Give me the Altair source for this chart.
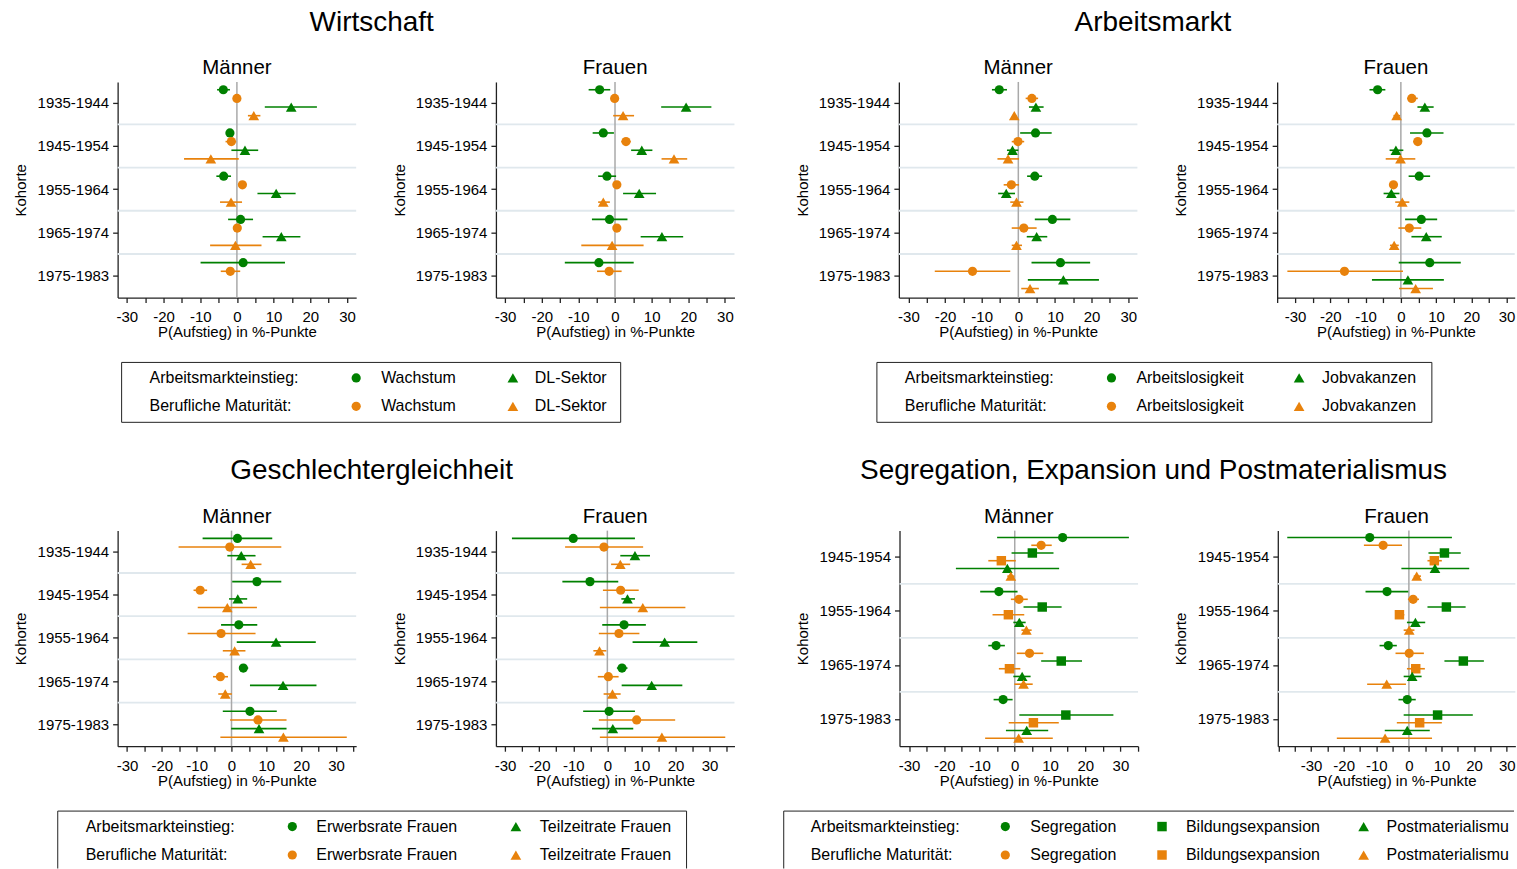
import altair as alt
import pandas as pd

GREEN = "#008000"
ORANGE = "#E8820C"
SEP_COLOR = "#E0E8ED"
ZERO_COLOR = "#A9A9A9"
AXIS_COLOR = "#222222"
FONT = "Liberation Sans"

cohorts_5 = ["1935-1944", "1945-1954", "1955-1964", "1965-1974", "1975-1983"]
cohorts_4 = ["1945-1954", "1955-1964", "1965-1974", "1975-1983"]

row_labels = ["Arbeitsmarkteinstieg:", "Berufliche Maturität:"]

# (estimate, lower CI, upper CI) per cohort, None = not estimated
# --- Wirtschaft, Männer
wirt_m_ein_wachstum = [(-3.7, -5.4, -1.9), (-1.9, -2.9, -0.8), (-3.6, -5.6, -1.6), (1.0, -2.4, 4.4), (1.7, -9.9, 13.1)]
wirt_m_mat_wachstum = [(0.0, -0.4, 0.4), (-1.5, -3.1, -0.2), (1.5, 1.0, 2.0), (0.1, -0.8, 0.9), (-1.8, -4.4, 0.9)]
wirt_m_ein_dl = [(14.8, 7.6, 21.8), (2.2, -1.5, 5.8), (10.7, 5.6, 16.0), (12.1, 7.0, 17.3), None]
wirt_m_mat_dl = [(4.6, 3.0, 6.4), (-7.1, -14.4, 0.5), (-1.6, -4.6, 1.4), (-0.4, -7.3, 6.7), None]
# --- Wirtschaft, Frauen
wirt_f_ein_wachstum = [(-4.2, -7.2, -1.3), (-3.2, -6.1, -0.3), (-2.2, -4.6, 0.3), (-1.5, -6.3, 3.4), (-4.4, -13.7, 5.1)]
wirt_f_mat_wachstum = [(-0.1, -0.5, 0.3), (3.0, 1.7, 4.3), (0.5, 0.1, 0.9), (0.5, 0.1, 0.9), (-1.6, -4.9, 1.8)]
wirt_f_ein_dl = [(19.4, 12.6, 26.3), (7.3, 4.4, 10.2), (6.6, 2.2, 11.2), (12.8, 7.0, 18.6), None]
wirt_f_mat_dl = [(2.2, -0.5, 5.2), (16.1, 12.7, 19.7), (-3.2, -4.6, -1.4), (-0.8, -9.2, 7.8), None]
# --- Arbeitsmarkt, Männer
arb_m_ein_alo = [(-5.2, -7.2, -3.1), (4.7, 0.5, 9.1), (4.5, 2.4, 6.5), (9.3, 4.5, 14.2), (11.5, 3.6, 19.6)]
arb_m_mat_alo = [(3.7, 2.0, 5.4), (-0.1, -1.8, 1.6), (-1.9, -4.0, 0.2), (1.5, -1.8, 5.0), (-12.5, -22.8, -2.2)]
arb_m_ein_vak = [(4.8, 2.9, 6.9), (-1.6, -3.1, 0.0), (-3.3, -5.5, -0.9), (5.0, 2.3, 7.9), (12.3, 2.6, 22.0)]
arb_m_mat_vak = [(-1.1, -1.7, -0.5), (-2.8, -5.7, 0.2), (-0.5, -2.2, 1.4), (-0.5, -1.8, 1.0), (3.2, 0.8, 5.6)]
# --- Arbeitsmarkt, Frauen
arb_f_ein_alo = [(-6.6, -8.9, -4.4), (7.4, 2.6, 12.1), (5.2, 2.2, 8.3), (5.8, 1.2, 10.3), (8.2, -0.6, 17.0)]
arb_f_mat_alo = [(3.1, 1.8, 4.8), (4.8, 3.5, 6.0), (-2.1, -3.0, -1.3), (2.4, -0.7, 5.8), (-16.0, -32.2, 0.6)]
arb_f_ein_vak = [(6.8, 4.7, 9.3), (-1.4, -3.2, 0.7), (-2.7, -4.9, -0.4), (7.2, 3.0, 11.6), (2.0, -8.2, 12.2)]
arb_f_mat_vak = [(-1.2, -2.1, -0.2), (-0.1, -4.3, 4.1), (0.4, -1.6, 2.4), (-1.9, -3.1, -0.6), (4.2, -0.5, 9.1)]
# --- Geschlechtergleichheit, Männer
ges_m_ein_erw = [(1.7, -8.3, 11.7), (7.3, 0.2, 14.3), (2.1, -3.0, 7.4), (3.4, 2.2, 4.8), (5.3, -2.5, 13.0)]
ges_m_mat_erw = [(-0.5, -15.2, 14.3), (-9.0, -10.9, -7.0), (-3.0, -12.6, 6.9), (-3.2, -5.3, -1.0), (7.6, -0.4, 15.8)]
ges_m_ein_tz = [(2.8, -1.2, 6.9), (1.8, -0.7, 4.5), (12.8, 1.5, 24.2), (14.8, 5.3, 24.4), (7.9, -0.1, 15.8)]
ges_m_mat_tz = [(5.5, 2.9, 8.6), (-1.2, -9.7, 7.3), (0.9, -2.5, 4.0), (-1.8, -3.8, 0.1), (14.9, -3.2, 33.1)]
# --- Geschlechtergleichheit, Frauen
ges_f_ein_erw = [(-10.0, -28.0, 8.1), (-5.1, -13.2, 3.2), (4.9, -1.5, 11.3), (4.3, 2.8, 5.9), (0.5, -7.1, 8.1)]
ges_f_mat_erw = [(-1.0, -12.4, 10.5), (3.9, -1.3, 9.2), (3.4, -2.5, 9.4), (0.3, -2.8, 3.3), (8.6, -2.5, 19.9)]
ges_f_ein_tz = [(8.1, 3.8, 12.5), (5.9, 4.1, 8.1), (16.8, 7.4, 26.4), (13.0, 4.2, 22.0), (1.6, -4.5, 7.6)]
ges_f_mat_tz = [(3.8, 1.1, 6.7), (10.4, -2.2, 22.9), (-2.3, -4.1, -0.3), (1.5, -1.1, 3.9), (16.0, -2.2, 34.6)]
# --- Segregation, Expansion und Postmaterialismus, Männer
seg_m_ein_seg = [(13.6, -5.0, 32.4), (-4.5, -9.8, 0.8), (-5.3, -7.5, -2.8), (-3.3, -6.0, -0.6)]
seg_m_mat_seg = [(7.5, 4.7, 10.5), (1.2, -1.1, 3.7), (4.2, 0.6, 8.1), None]
seg_m_ein_bild = [(5.0, -0.9, 11.0), (7.8, 2.5, 13.3), (13.2, 7.5, 19.1), (14.5, 1.3, 28.0)]
seg_m_mat_bild = [(-3.8, -7.5, 0.3), (-1.8, -6.3, 2.7), (-1.5, -4.5, 1.6), (5.3, -1.7, 12.5)]
seg_m_ein_post = [(-2.1, -16.7, 12.6), (1.3, -0.4, 3.1), (2.1, -0.4, 4.5), (3.4, -2.5, 9.5)]
seg_m_mat_post = [(-1.1, -2.1, -0.1), (3.3, 1.9, 4.8), (2.5, -0.1, 5.1), (1.1, -8.4, 10.8)]
# --- Segregation, Expansion und Postmaterialismus, Frauen
seg_f_ein_seg = [(-12.0, -37.3, 13.2), (-6.7, -13.3, -0.2), (-6.3, -9.0, -3.7), (-0.5, -3.2, 2.1)]
seg_f_mat_seg = [(-7.9, -13.8, -2.1), (1.3, -0.3, 3.1), (0.1, -4.1, 4.6), None]
seg_f_ein_bild = [(10.9, 6.0, 15.9), (11.5, 5.7, 17.4), (16.7, 10.9, 23.0), (8.8, -1.6, 19.6)]
seg_f_mat_bild = [(7.8, 5.7, 10.1), (-2.9, -4.2, -1.4), (2.1, -0.6, 4.9), (3.3, -3.7, 10.1)]
seg_f_ein_post = [(8.0, -2.3, 18.5), (2.0, -0.6, 5.0), (1.0, -1.6, 3.9), (-0.5, -7.4, 6.4)]
seg_f_mat_post = [(2.4, 1.5, 3.7), (0.1, -1.6, 1.7), (-6.8, -12.8, -0.9), (-7.3, -22.1, 7.1)]

SYMBOL_SIZE = {"circle": 85, "triangle-up": 115, "square": 90}
PANEL_H = 216
PANEL_GAP = 35


def make_panel(title, cohorts, series, domain, width, spacer=None):
    n = len(series)
    step = n + 1
    rows = []
    for j, (vals, color, shape) in enumerate(series):
        for k, v in enumerate(vals):
            if v is None:
                continue
            rows.append({"slot": k * step + j, "est": v[0], "lo": v[1], "hi": v[2],
                         "color": color, "shape": shape, "size": SYMBOL_SIZE[shape]})
    df = pd.DataFrame(rows)
    last = len(cohorts) * step - 2
    centers = [k * step + (n - 1) / 2 for k in range(len(cohorts))]
    seps = [k * step - 1 for k in range(1, len(cohorts))]
    expr = ""
    for c, lab in zip(centers, cohorts):
        expr += f"datum.value === {c} ? '{lab}' : "
    expr += "''"
    yscale = alt.Scale(domain=[-0.9, last + 1.04], reverse=True, nice=False, zero=False)
    yaxis = alt.Axis(values=centers, labelExpr=expr, title="Kohorte", grid=False,
                     tickSize=5, labelPadding=4, labelFontSize=15, labelColor="black",
                     titleFontSize=15, titleFontWeight="normal", titleColor="black",
                     minExtent=82, maxExtent=82, titlePadding=7,
                     domainColor=AXIS_COLOR, tickColor=AXIS_COLOR, domainWidth=1.3,
                     tickWidth=1.3, labelFlush=False, labelOverlap=False)
    xvals = [v for v in range(-40, 41, 5) if domain[0] <= v <= domain[1]]
    xscale = alt.Scale(domain=domain, nice=False, zero=False)
    xaxis = alt.Axis(values=xvals,
                     labelExpr="datum.value % 10 === 0 && abs(datum.value) <= 30 ? '' + datum.value : ''",
                     title="P(Aufstieg) in %-Punkte", grid=False, tickSize=5, labelPadding=7,
                     labelFontSize=15, labelColor="black", titleFontSize=15,
                     titleFontWeight="normal", titleColor="black", titlePadding=0,
                     domainColor=AXIS_COLOR, tickColor=AXIS_COLOR, domainWidth=1.3,
                     tickWidth=1.3, labelFlush=False, labelOverlap=False)

    def Y():
        return alt.Y("slot:Q", scale=yscale, axis=yaxis)

    def X(f):
        return alt.X(f, scale=xscale, axis=xaxis)

    sep = alt.Chart(pd.DataFrame({"slot": seps})).mark_rule(
        color=SEP_COLOR, strokeWidth=1.8).encode(y=Y())
    zero = alt.Chart(pd.DataFrame({"lo": [0]})).mark_rule(
        color=ZERO_COLOR, strokeWidth=1.5).encode(x=X("lo:Q"))
    ci = alt.Chart(df).mark_rule(strokeWidth=1.6).encode(
        x=X("lo:Q"), x2="hi:Q", y=Y(), color=alt.Color("color:N", scale=None))
    pts = alt.Chart(df).mark_point(filled=True, opacity=1).encode(
        x=X("est:Q"), y=Y(), color=alt.Color("color:N", scale=None),
        shape=alt.Shape("shape:N", scale=None), size=alt.Size("size:Q", scale=None))
    ttl = alt.Chart(pd.DataFrame({"t": [title]})).mark_text(
        fontSize=20.5, baseline="alphabetic", align="center", color="black").encode(
        x=alt.value(width / 2), y=alt.value(-7.7), text="t:N")
    layers = [sep, zero, ci, pts, ttl]
    if spacer is not None:
        layers.append(alt.Chart(pd.DataFrame({"a": [0]})).mark_rule(
            color="white", strokeWidth=1).encode(
            x=alt.value(spacer), x2=alt.value(spacer), y=alt.value(0), y2=alt.value(8)))
    return alt.layer(*layers).properties(width=width, height=PANEL_H)


def make_legend(chart_w, height, box_x, box_w, columns, label_x, sym_x, txt_x,
                closed_right=True, closed_bottom=True, cut_last=0):
    row_y = [16, 44.5]
    colors = [GREEN, ORANGE]
    texts, cut_texts, syms = [], [], []
    ncol = len(columns)
    for r in range(2):
        texts.append({"x": box_x + label_x, "y": row_y[r], "t": row_labels[r]})
        for c, (shape, lab) in enumerate(columns):
            rec = {"x": box_x + txt_x[c], "y": row_y[r], "t": lab}
            if cut_last and c == ncol - 1:
                cut_texts.append(rec)
            else:
                texts.append(rec)
            syms.append({"x": box_x + sym_x[c], "y": row_y[r], "color": colors[r],
                         "shape": shape, "size": SYMBOL_SIZE[shape]})
    bottom = height - 0.5 if closed_bottom else height
    segs = [{"x": box_x, "x2": box_x + box_w, "y": 0.5, "y2": 0.5},
            {"x": box_x, "x2": box_x, "y": 0.5, "y2": bottom}]
    if closed_right:
        segs.append({"x": box_x + box_w, "x2": box_x + box_w, "y": 0.5, "y2": bottom})
    if closed_bottom:
        segs.append({"x": box_x, "x2": box_x + box_w, "y": bottom, "y2": bottom})
    xs = alt.Scale(domain=[0, chart_w], nice=False, zero=False)
    ys = alt.Scale(domain=[0, height], reverse=True, nice=False, zero=False)
    box = alt.Chart(pd.DataFrame(segs)).mark_rule(color="#222222", strokeWidth=1).encode(
        x=alt.X("x:Q", scale=xs, axis=None), x2="x2:Q",
        y=alt.Y("y:Q", scale=ys, axis=None), y2="y2:Q")
    text_kw = dict(align="left", baseline="middle", fontSize=16, color="black")
    layers = [box]
    layers.append(alt.Chart(pd.DataFrame(texts)).mark_text(**text_kw).encode(
        x=alt.X("x:Q", scale=xs, axis=None), y=alt.Y("y:Q", scale=ys, axis=None), text="t:N"))
    if cut_texts:
        layers.append(alt.Chart(pd.DataFrame(cut_texts)).mark_text(
            limit=cut_last, ellipsis="\u200b", **text_kw).encode(
            x=alt.X("x:Q", scale=xs, axis=None), y=alt.Y("y:Q", scale=ys, axis=None), text="t:N"))
    layers.append(alt.Chart(pd.DataFrame(syms)).mark_point(filled=True, opacity=1).encode(
        x=alt.X("x:Q", scale=xs, axis=None), y=alt.Y("y:Q", scale=ys, axis=None),
        color=alt.Color("color:N", scale=None), shape=alt.Shape("shape:N", scale=None),
        size=alt.Size("size:Q", scale=None)))
    return alt.layer(*layers).properties(width=chart_w, height=height)


def make_group(title, title_cx, m, f, leg):
    tchart = alt.Chart(pd.DataFrame({"t": [title]})).mark_text(
        fontSize=28, baseline="alphabetic", align="center", color="black").encode(
        x=alt.value(title_cx), y=alt.value(30), text="t:N").properties(width=600, height=36)
    body = alt.vconcat(alt.hconcat(m, f, spacing=PANEL_GAP), leg, spacing=22.5)
    return alt.vconcat(tchart, body, spacing=21.3)


# series definitions
wirt_m = [(wirt_m_ein_wachstum, GREEN, "circle"), (wirt_m_mat_wachstum, ORANGE, "circle"),
          (wirt_m_ein_dl, GREEN, "triangle-up"), (wirt_m_mat_dl, ORANGE, "triangle-up")]
wirt_f = [(wirt_f_ein_wachstum, GREEN, "circle"), (wirt_f_mat_wachstum, ORANGE, "circle"),
          (wirt_f_ein_dl, GREEN, "triangle-up"), (wirt_f_mat_dl, ORANGE, "triangle-up")]
arb_m = [(arb_m_ein_alo, GREEN, "circle"), (arb_m_mat_alo, ORANGE, "circle"),
         (arb_m_ein_vak, GREEN, "triangle-up"), (arb_m_mat_vak, ORANGE, "triangle-up")]
arb_f = [(arb_f_ein_alo, GREEN, "circle"), (arb_f_mat_alo, ORANGE, "circle"),
         (arb_f_ein_vak, GREEN, "triangle-up"), (arb_f_mat_vak, ORANGE, "triangle-up")]
ges_m = [(ges_m_ein_erw, GREEN, "circle"), (ges_m_mat_erw, ORANGE, "circle"),
         (ges_m_ein_tz, GREEN, "triangle-up"), (ges_m_mat_tz, ORANGE, "triangle-up")]
ges_f = [(ges_f_ein_erw, GREEN, "circle"), (ges_f_mat_erw, ORANGE, "circle"),
         (ges_f_ein_tz, GREEN, "triangle-up"), (ges_f_mat_tz, ORANGE, "triangle-up")]
seg_m = [(seg_m_ein_seg, GREEN, "circle"), (seg_m_mat_seg, ORANGE, "circle"),
         (seg_m_ein_bild, GREEN, "square"), (seg_m_mat_bild, ORANGE, "square"),
         (seg_m_ein_post, GREEN, "triangle-up"), (seg_m_mat_post, ORANGE, "triangle-up")]
seg_f = [(seg_f_ein_seg, GREEN, "circle"), (seg_f_mat_seg, ORANGE, "circle"),
         (seg_f_ein_bild, GREEN, "square"), (seg_f_mat_bild, ORANGE, "square"),
         (seg_f_ein_post, GREEN, "triangle-up"), (seg_f_mat_post, ORANGE, "triangle-up")]

W_L = 239          # regular panels
W_RF = 238         # right-most panels (cut at the page edge)
RIGHT_END = W_L + PANEL_GAP + 104.15 + W_RF   # right edge of a right group, from its first plot

g1 = make_group(
    "Wirtschaft", 254.5,
    make_panel("Männer", cohorts_5, wirt_m, [-32.5, 32.5], W_L),
    make_panel("Frauen", cohorts_5, wirt_f, [-32.5, 32.6], W_L),
    make_legend(600, 61, 4, 500, [("circle", "Wachstum"), ("triangle-up", "DL-Sektor")],
                28, [235, 392], [260, 414]))
g2 = make_group(
    "Arbeitsmarkt", 254.5,
    make_panel("Männer", cohorts_5, arb_m, [-32.6, 32.5], W_L),
    make_panel("Frauen", cohorts_5, arb_f, [-35.1, 32.3], W_RF),
    make_legend(600, 61, -22, 556, [("circle", "Arbeitslosigkeit"), ("triangle-up", "Jobvakanzen")],
                28, [235, 423], [260, 446]))
g3 = make_group(
    "Geschlechtergleichheit", 254.5,
    make_panel("Männer", cohorts_5, ges_m, [-32.7, 35.8], W_L),
    make_panel("Frauen", cohorts_5, ges_f, [-32.7, 37.3], W_L),
    make_legend(600, 58, -60, 630, [("circle", "Erwerbsrate Frauen"), ("triangle-up", "Teilzeitrate Frauen")],
                28, [235, 459], [259, 483], closed_bottom=False))
g4 = make_group(
    "Segregation, Expansion und Postmaterialismus", 254.5,
    make_panel("Männer", cohorts_4, seg_m, [-32.7, 35.0], W_L, spacer=-116),
    make_panel("Frauen", cohorts_4, seg_f, [-40.2, 32.65], W_RF),
    make_legend(600, 58, -116, 116 + RIGHT_END - 0.5,
                [("circle", "Segregation"), ("square", "Bildungsexpansion"),
                 ("triangle-up", "Postmaterialismus")],
                27, [222, 379, 581], [247, 403, 604],
                closed_right=False, closed_bottom=False, cut_last=127))

row1 = alt.hconcat(g1, g2, spacing=59.7)
row2 = alt.hconcat(g3, g4, spacing=47.35)

chart = alt.vconcat(row1, row2, spacing=26.5).properties(
    padding={"left": 13.85, "top": 0, "right": 0, "bottom": 0}
).configure(font=FONT, background="white").configure_view(strokeWidth=0)

chart.save("out.html", embed_options={"renderer": "svg", "actions": False})
